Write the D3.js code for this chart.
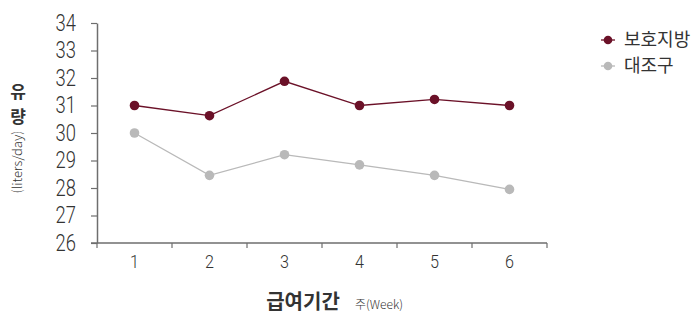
<!DOCTYPE html>
<html>
<head>
<meta charset="utf-8">
<script src="https://cdn.jsdelivr.net/npm/d3@7"></script>
<style>
  body { margin: 0; background: #fff; }
  text { font-family: "Noto Sans CJK KR", "Noto Sans", sans-serif; }
  .num { font-family: Roboto, "Noto Sans", sans-serif; }
</style>
</head>
<body>
<svg id="chart" width="696" height="315"></svg>
<script>
var weeks = [1, 2, 3, 4, 5, 6];
var fatValues = [31.0, 30.63, 31.88, 31.0, 31.22, 31.0];
var ctrlValues = [30.0, 28.46, 29.21, 28.84, 28.46, 27.95];
var yTicks = [26, 27, 28, 29, 30, 31, 32, 33, 34];
var seriesNames = ["보호지방", "대조구"];

var series = [
  { name: seriesNames[0], values: fatValues, color: "#6b1128" },
  { name: seriesNames[1], values: ctrlValues, color: "#b9b9b9" }
];

var svg = d3.select("#chart"),
    margin = {top: 23, left: 97, bottom: 72, right: 149},
    width = +svg.attr("width"),
    height = +svg.attr("height");

var x = d3.scaleBand()
  .domain(weeks)
  .range([margin.left, width - margin.right]);

var y = d3.scaleLinear()
  .domain([26, 34])
  .range([height - margin.bottom, margin.top]);

var axisColor = "#6e6e6e";
var squeeze = 0.8;

// y axis
var yAxis = svg.append("g")
  .attr("transform", "translate(" + margin.left + ",0)")
  .call(d3.axisLeft(y).tickValues(yTicks).tickSize(6).tickSizeOuter(0));
yAxis.select(".domain").attr("stroke", axisColor).attr("stroke-width", 1.5);
yAxis.selectAll(".tick line").attr("stroke", axisColor).attr("stroke-width", 1.2);
yAxis.selectAll("text")
  .attr("class", "num")
  .attr("x", -21 / squeeze)
  .attr("transform", "scale(" + squeeze + ",1)")
  .attr("fill", "#333")
  .attr("font-size", 23)
  .attr("font-weight", 300);

// x axis, ticks at band edges
var xAxis = svg.append("g")
  .attr("transform", "translate(0," + (height - margin.bottom) + ")");
xAxis.append("line")
  .attr("x1", margin.left - 6).attr("x2", width - margin.right)
  .attr("stroke", axisColor).attr("stroke-width", 1.5);
var edges = weeks.map(d => x(d)).concat([x(weeks[weeks.length - 1]) + x.bandwidth()]);
xAxis.selectAll(".edge")
  .data(edges)
  .enter().append("line")
  .attr("x1", d => d).attr("x2", d => d)
  .attr("y1", 0).attr("y2", 5)
  .attr("stroke", axisColor).attr("stroke-width", 1.2);
xAxis.selectAll(".lab")
  .data(weeks)
  .enter().append("text")
  .attr("class", "num")
  .attr("x", d => (x(d) + x.bandwidth() / 2) / 0.85)
  .attr("transform", "scale(0.85,1)")
  .attr("y", 25)
  .attr("text-anchor", "middle")
  .attr("fill", "#333")
  .attr("font-size", 19)
  .attr("font-weight", 300)
  .text(d => d);

// lines
var line = d3.line()
  .x((d, i) => x(weeks[i]) + x.bandwidth() / 2)
  .y(d => y(d));

series.slice().reverse().forEach(function(s) {
  svg.append("path")
    .datum(s.values)
    .attr("fill", "none")
    .attr("stroke", s.color)
    .attr("stroke-width", 1.3)
    .attr("d", line);
  svg.selectAll(null)
    .data(s.values)
    .enter().append("circle")
    .attr("cx", (d, i) => x(weeks[i]) + x.bandwidth() / 2)
    .attr("cy", d => y(d))
    .attr("r", 4.8)
    .attr("fill", s.color);
});

// y title, stacked characters
svg.append("text")
  .attr("x", 18).attr("y", 98)
  .attr("text-anchor", "middle")
  .attr("font-size", 17).attr("font-weight", 700)
  .attr("fill", "#333")
  .text("유");
svg.append("text")
  .attr("x", 18).attr("y", 123)
  .attr("text-anchor", "middle")
  .attr("font-size", 17).attr("font-weight", 700)
  .attr("fill", "#333")
  .text("량");
svg.append("text")
  .attr("transform", "translate(22,162) rotate(-90)")
  .attr("text-anchor", "middle")
  .attr("font-size", 13).attr("font-weight", 300)
  .attr("fill", "#333")
  .text("(liters/day)");

// x title
svg.append("text")
  .attr("x", 303).attr("y", 309)
  .attr("text-anchor", "middle")
  .attr("font-size", 20).attr("font-weight", 700)
  .attr("fill", "#333")
  .text("급여기간");
svg.append("text")
  .attr("x", 355).attr("y", 309)
  .attr("font-size", 12).attr("font-weight", 300)
  .attr("fill", "#333")
  .text("주(Week)");

// legend
var legend = svg.selectAll(".legend")
  .data(series)
  .enter().append("g")
  .attr("transform", (d, i) => "translate(601," + (40 + i * 26) + ")");
legend.append("line")
  .attr("x1", 0).attr("x2", 14)
  .attr("stroke", d => d.color).attr("stroke-width", 1.3);
legend.append("circle")
  .attr("cx", 7).attr("r", 4.3)
  .attr("fill", d => d.color);
legend.append("text")
  .attr("x", 23).attr("dy", "0.35em")
  .attr("font-size", 18)
  .attr("fill", "#333")
  .text(d => d.name);
</script>
</body>
</html>
